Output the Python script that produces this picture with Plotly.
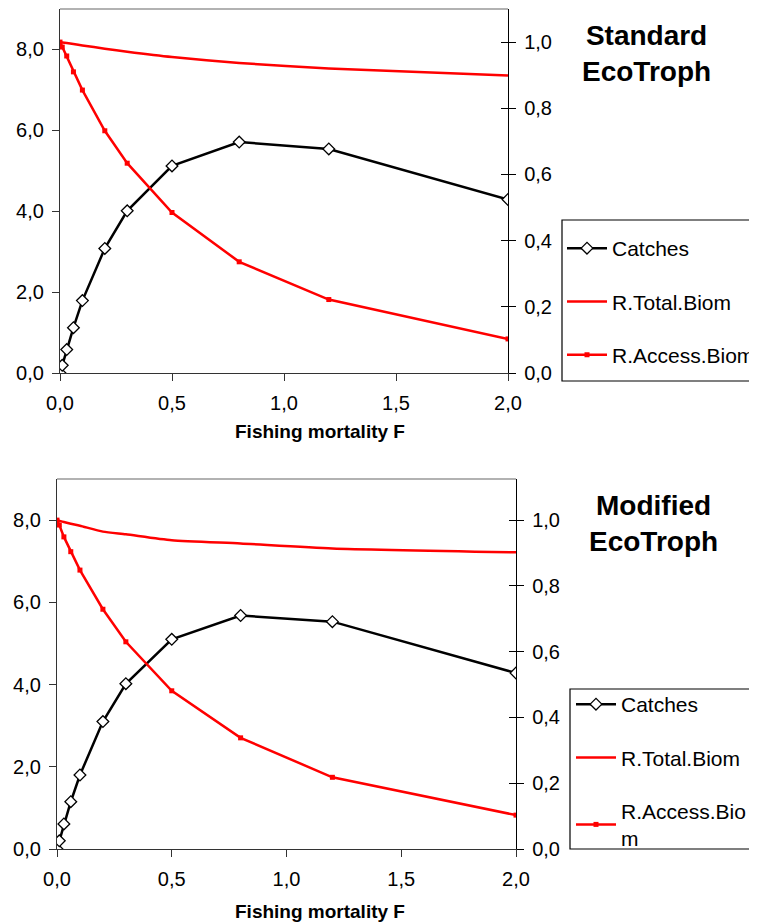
import plotly.graph_objects as go

# fishing mortality multipliers (shared by both panels)
f_values = [0, 0.01, 0.03, 0.06, 0.1, 0.2, 0.3, 0.5, 0.8, 1.2, 2.0]

# Standard EcoTroph
std_catches = [0, 0.19, 0.58, 1.12, 1.79, 3.08, 4.01, 5.12, 5.71, 5.54, 4.29]
std_total_biom = [1.0, 0.999, 0.997, 0.994, 0.99, 0.98, 0.971, 0.955, 0.937, 0.92, 0.899]
std_access_biom = [1.0, 0.985, 0.958, 0.91, 0.855, 0.732, 0.634, 0.485, 0.336, 0.222, 0.103]

# Modified EcoTroph
mod_catches = [0, 0.20, 0.61, 1.15, 1.80, 3.10, 4.02, 5.10, 5.68, 5.53, 4.28]
mod_total_biom = [1.0, 0.998, 0.994, 0.989, 0.983, 0.965, 0.957, 0.939, 0.929, 0.914, 0.902]
mod_access_biom = [1.0, 0.985, 0.949, 0.904, 0.848, 0.729, 0.630, 0.481, 0.338, 0.218, 0.103]

panel_titles = ["Standard<br>EcoTroph", "Modified<br>EcoTroph"]
x_title = "Fishing mortality F"

# the page body adds an 8px margin, so the figure is made smaller and
# screen pixel positions are shifted back by that amount
PAGE_PAD = 8
W, H = 757 - PAGE_PAD, 923 - PAGE_PAD
FONT = "Liberation Sans, Arial, sans-serif"


def px_x(v):
    return (v - PAGE_PAD) / W


def px_y(v):
    return 1 - (v - PAGE_PAD) / H


fig = go.Figure()

panels = [
    # data, axes ids, pixel box (left, right, top, bottom), right range, legend
    dict(catches=std_catches, total=std_total_biom, access=std_access_biom,
         xa="x", ya="y", ya2="y2", ya3="y5", box=(60, 508, 9, 373), rmax=1.1,
         legend="legend", access_name="R.Access.Biom",
         legbox=(562, 220, 381), legpos=(562, 228)),
    dict(catches=mod_catches, total=mod_total_biom, access=mod_access_biom,
         xa="x2", ya="y3", ya2="y4", ya3="y6", box=(57, 516, 479, 849), rmax=1.125,
         legend="legend2", access_name="R.Access.Bio<br>m",
         legbox=(570, 689, 849), legpos=(571, 684)),
]

for p in panels:
    fig.add_trace(go.Scatter(
        x=f_values, y=p["catches"], name="Catches", mode="lines+markers",
        line=dict(color="black", width=2.5),
        marker=dict(symbol="diamond", size=9, color="white",
                    line=dict(color="black", width=1.3)),
        xaxis=p["xa"], yaxis=p["ya"], legend=p["legend"], legendgroup="a"))
    fig.add_trace(go.Scatter(
        x=f_values, y=p["total"], name="R.Total.Biom", mode="lines",
        line=dict(color="#ff0000", width=2.5, shape="spline", smoothing=0.6),
        xaxis=p["xa"], yaxis=p["ya2"], legend=p["legend"], legendgroup="b"))
    fig.add_trace(go.Scatter(
        x=f_values, y=p["access"], name=p["access_name"], mode="lines+markers",
        line=dict(color="#ff0000", width=2.5),
        marker=dict(symbol="square", size=5, color="#ff0000"),
        xaxis=p["xa"], yaxis=p["ya2"], legend=p["legend"], legendgroup="c"))
    # empty trace so the inner tick axis on the right gets drawn
    fig.add_trace(go.Scatter(x=[], y=[], xaxis=p["xa"], yaxis=p["ya3"],
                             showlegend=False, hoverinfo="skip"))

tick_font = dict(family=FONT, size=20, color="black")
layout = {}
for i, p in enumerate(panels):
    l, r, t, b = p["box"]
    xdom = [px_x(l), px_x(r)]
    ydom = [px_y(b), px_y(t)]
    xkey = "xaxis" if p["xa"] == "x" else "xaxis" + p["xa"][1:]
    ykey = "yaxis" if p["ya"] == "y" else "yaxis" + p["ya"][1:]
    y2key = "yaxis" + p["ya2"][1:]
    y3key = "yaxis" + p["ya3"][1:]
    layout[xkey] = dict(
        domain=xdom, range=[0, 2], dtick=0.5, tickformat=".1f", anchor=p["ya"],
        showgrid=False, zeroline=False, showline=True, linecolor="#333333",
        linewidth=1.3, ticks="outside", ticklen=7, tickcolor="#333333",
        tickfont=tick_font, ticklabelstandoff=5, automargin=False)
    layout[ykey] = dict(
        domain=ydom, range=[0, 9], dtick=2, tickformat=".1f", anchor=p["xa"],
        showgrid=False, zeroline=False, showline=True, linecolor="#333333",
        linewidth=1.3, ticks="outside", ticklen=7, tickcolor="#333333",
        tickfont=tick_font, ticklabelstandoff=4, automargin=False)
    layout[y2key] = dict(
        range=[0, p["rmax"]], dtick=0.2, tickformat=".1f", overlaying=p["ya"],
        side="right", anchor=p["xa"], showgrid=False, zeroline=False,
        showline=True, linecolor="black", linewidth=1.3, ticks="outside",
        ticklen=7, tickcolor="black", tickfont=tick_font, ticklabelstandoff=4,
        automargin=False)
    layout[y3key] = dict(
        range=[0, p["rmax"]], dtick=0.2, overlaying=p["ya"], side="right",
        anchor=p["xa"], showgrid=False, zeroline=False, showline=False,
        ticks="inside", ticklen=7, tickcolor="black", showticklabels=False,
        automargin=False)

fig.update_layout(**layout)

legend_style = dict(
    bgcolor="rgba(0,0,0,0)", borderwidth=0,
    font=dict(family=FONT, size=21, color="black"),
    xanchor="left", yanchor="top", traceorder="grouped", tracegroupgap=23,
    itemwidth=40)
for p in panels:
    lx, ly = p["legpos"]
    fig.update_layout({p["legend"]: dict(x=px_x(lx), y=px_y(ly), **legend_style)})
    # legend frame drawn as a rectangle, running off the right edge as in the original
    bx, by0, by1 = p["legbox"]
    fig.add_shape(type="rect", xref="paper", yref="paper",
                  x0=px_x(bx), x1=px_x(757 + 5), y0=px_y(by1), y1=px_y(by0),
                  line=dict(color="black", width=1.2), layer="below")

# gray top border of each plot area
for p in panels:
    fig.add_shape(type="line", xref=p["xa"] + " domain", yref=p["ya"] + " domain",
                  x0=0, x1=1, y0=1, y1=1, line=dict(color="#999999", width=1.3))

# panel titles and x axis titles
title_pos = [(646, 53), (653, 523)]
for txt, (tx, ty) in zip(panel_titles, title_pos):
    fig.add_annotation(text="<b>" + txt + "</b>", x=px_x(tx), y=px_y(ty),
                       xref="paper", yref="paper", showarrow=False,
                       xanchor="center", yanchor="middle",
                       font=dict(family=FONT, size=28, color="black"))
for yc in (432, 911):
    fig.add_annotation(text="<b>" + x_title + "</b>", x=px_x(320), y=px_y(yc),
                       xref="paper", yref="paper", showarrow=False,
                       xanchor="center", yanchor="middle",
                       font=dict(family=FONT, size=19, color="black"))

fig.update_layout(
    width=W, height=H, margin=dict(l=0, r=0, t=0, b=0, autoexpand=False),
    paper_bgcolor="white", plot_bgcolor="white",
    separators=",.", showlegend=True,
    font=dict(family=FONT, color="black"),
)

fig.write_html("out.html")
